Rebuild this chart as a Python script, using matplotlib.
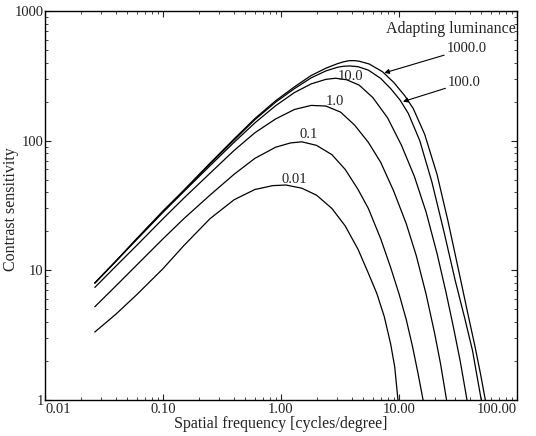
import matplotlib
matplotlib.use("Agg")
import matplotlib.pyplot as plt
from matplotlib.ticker import LogLocator, NullFormatter, FixedLocator, FixedFormatter

plt.rcParams['font.family'] = ['Liberation Serif', 'DejaVu Serif']

# Spatial frequency (cycles/degree) and contrast sensitivity per adapting luminance
f_001 = [0.0265, 0.04, 0.06, 0.1, 0.15, 0.25, 0.4, 0.6, 0.85, 1.1, 1.5, 2.0, 2.7, 3.5, 4.5, 5.5, 6.5, 7.5, 8.5, 9.2, 9.8]
s_001 = [3.35, 4.6, 6.5, 10.3, 15.5, 25, 35, 42, 45, 45.5, 43, 38, 30, 22, 14.5, 9.5, 6.6, 4.4, 2.7, 1.8, 1.0]

f_01 = [0.0265, 0.04, 0.06, 0.1, 0.15, 0.25, 0.4, 0.6, 0.9, 1.2, 1.5, 2.0, 2.7, 3.5, 4.5, 5.5, 7, 8.5, 10, 11.5, 13, 14.5, 16]
s_01 = [5.25, 7.6, 11, 17.5, 25, 38, 55, 73, 89, 96, 98, 92, 78, 60, 42, 30, 17.5, 10.5, 6.6, 4.2, 2.6, 1.6, 1.0]

f_1 = [0.0265, 0.04, 0.06, 0.1, 0.15, 0.25, 0.4, 0.6, 0.9, 1.3, 1.8, 2.4, 3.2, 4.2, 5.5, 7, 9, 11.5, 14, 17, 20, 22.5, 25.3]
s_1 = [7.4, 10.8, 15.6, 25, 36, 56, 84, 115, 147, 174, 187, 185, 166, 132, 97, 68, 41, 23, 13, 6.5, 3.3, 1.9, 1.0]

f_10 = [0.0265, 0.04, 0.06, 0.1, 0.15, 0.25, 0.4, 0.6, 0.9, 1.3, 1.8, 2.4, 2.9, 3.6, 4.6, 6, 8, 10.5, 13.5, 17, 21, 25, 29, 33, 37.7]
s_10 = [8.0, 11.8, 17.3, 28, 40.5, 64, 97, 137, 186, 235, 274, 297, 303, 295, 268, 215, 150, 92, 53, 28, 13.5, 6.8, 3.6, 2.0, 1.0]

f_100 = [0.0265, 0.04, 0.06, 0.1, 0.15, 0.25, 0.4, 0.6, 0.9, 1.3, 1.8, 2.4, 3.0, 3.4, 3.8, 4.5, 5.5, 7, 8.5, 10.2, 12, 15, 19, 24, 30, 36, 42, 46, 49.8]
s_100 = [8.0, 11.8, 17.5, 28.5, 41, 66, 101, 145, 198, 252, 305, 345, 368, 375, 377, 372, 350, 302, 252, 206, 162, 100, 48, 20, 8.3, 4.3, 2.4, 1.5, 1.0]

f_1000 = [0.0265, 0.04, 0.06, 0.1, 0.15, 0.25, 0.4, 0.6, 0.9, 1.3, 1.8, 2.4, 3.0, 3.4, 3.8, 4.2, 4.6, 5.6, 7.25, 9.0, 11.2, 13.2, 16.5, 21, 26, 32, 38, 44, 49, 53.9]
s_1000 = [8.0, 11.8, 17.6, 28.7, 41.5, 67, 103, 148, 203, 260, 318, 362, 392, 406, 414, 414, 410, 390, 340, 282, 222, 177, 112, 55, 24, 10, 4.8, 2.6, 1.6, 1.0]

x_ticks = [0.01, 0.1, 1, 10, 100]
x_tick_labels = ["0.01", "0.10", "1.00", "10.00", "100.00"]
y_ticks = [1, 10, 100, 1000]
y_tick_labels = ["1", "10", "100", "1000"]

fig = plt.figure(figsize=(5.36, 4.36), dpi=100)
ax = fig.add_axes([45/536, 1-400/436, (517-45)/536, (400-11)/436])

for fx, sy in [(f_001, s_001), (f_01, s_01), (f_1, s_1), (f_10, s_10), (f_100, s_100), (f_1000, s_1000)]:
    ax.plot(fx, sy, color='black', lw=0.9)

ax.set_xscale('log')
ax.set_yscale('log')
ax.set_xlim(0.01, 100)
ax.set_ylim(1, 1000)

ax.xaxis.set_major_locator(FixedLocator(x_ticks))
ax.xaxis.set_major_formatter(FixedFormatter(x_tick_labels))
ax.yaxis.set_major_locator(FixedLocator(y_ticks))
ax.yaxis.set_major_formatter(FixedFormatter(y_tick_labels))
ax.xaxis.set_minor_locator(LogLocator(base=10, subs=range(2, 10)))
ax.yaxis.set_minor_locator(LogLocator(base=10, subs=range(2, 10)))
ax.xaxis.set_minor_formatter(NullFormatter())
ax.yaxis.set_minor_formatter(NullFormatter())

ax.tick_params(which='both', direction='in', top=True, right=True, labelsize=10.5, colors='#222222')
ax.tick_params(which='major', length=4, width=0.8)
ax.tick_params(which='minor', length=2.5, width=0.6)
ax.tick_params(axis='y', pad=1)
ax.tick_params(axis='x', pad=2)
xl = ax.get_xticklabels()
xl[0].set_horizontalalignment('left')
xl[-1].set_horizontalalignment('right')

for sp in ax.spines.values():
    sp.set_linewidth(1.0)

ax.set_xlabel("Spatial frequency [cycles/degree]", fontsize=11.5, labelpad=0, color='#222222')
ax.set_ylabel("Contrast sensitivity", fontsize=11.5, color='#222222')
ax.yaxis.set_label_coords(-0.056, 0.49)

ax.text(0.997, 0.955, "Adapting luminance", transform=ax.transAxes, ha='right', va='center', fontsize=11.5, color='#222222')
ax.text(3.85, 315, "10.0", ha='center', va='center', fontsize=10.5, color='#222222')
ax.text(2.84, 202, "1.0", ha='center', va='center', fontsize=10.5, color='#222222')
ax.text(1.71, 111, "0.1", ha='center', va='center', fontsize=10.5, color='#222222')
ax.text(1.29, 50.6, "0.01", ha='center', va='center', fontsize=10.5, color='#222222')

ax.annotate("1000.0", xy=(7.5, 333), xytext=(25.5, 515), ha='left', va='center', fontsize=10.5, color='#222222',
            arrowprops=dict(arrowstyle='-|>', color='black', lw=0.8, mutation_scale=7, shrinkA=0, shrinkB=0))
ax.annotate("100.0", xy=(10.8, 200), xytext=(26.1, 282), ha='left', va='center', fontsize=10.5, color='#222222',
            arrowprops=dict(arrowstyle='-|>', color='black', lw=0.8, mutation_scale=7, shrinkA=0, shrinkB=0))

fig.savefig("out.png", dpi=100)
